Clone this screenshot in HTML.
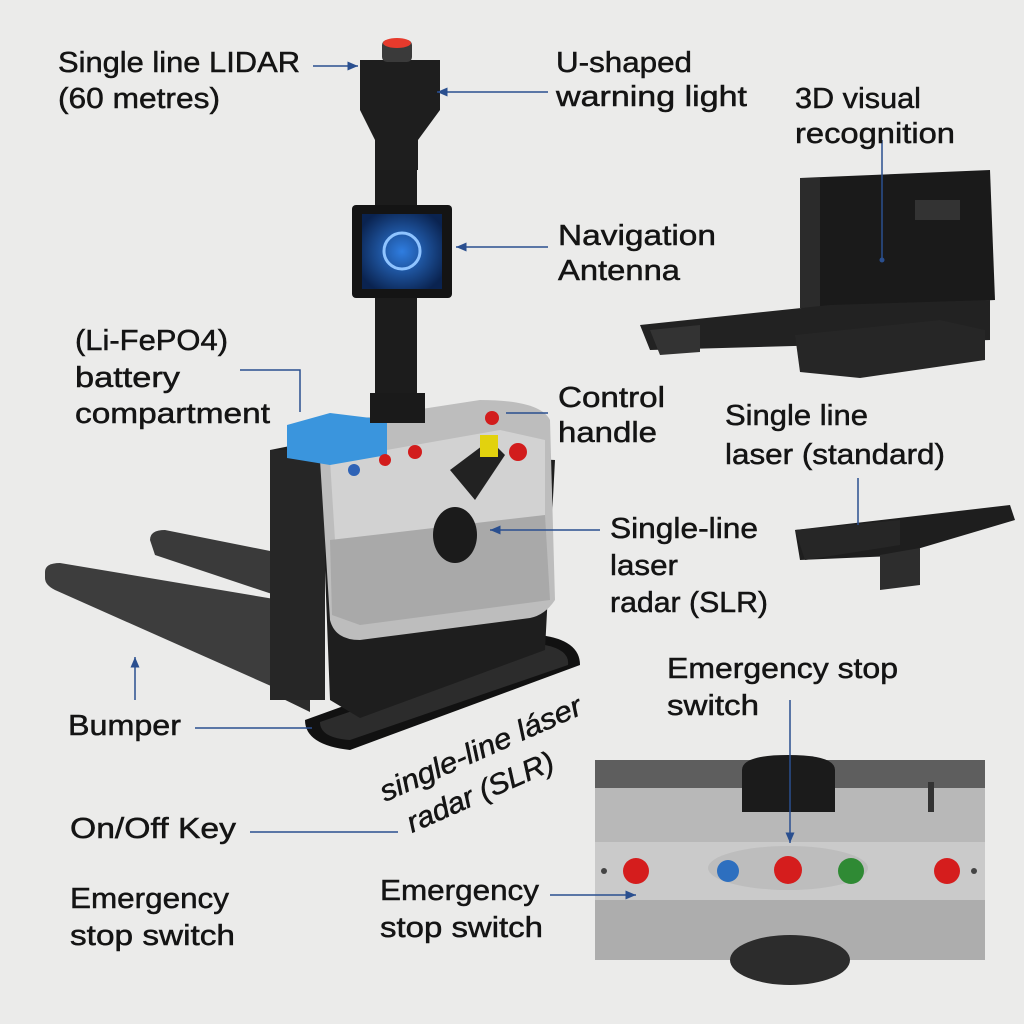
<!DOCTYPE html>
<html><head><meta charset="utf-8"><style>
html,body{margin:0;padding:0;background:#ebebea;}
svg{display:block}
text{font-family:"Liberation Sans",sans-serif;font-size:29px;fill:#141414;stroke:#141414;stroke-width:0.5;}
</style></head><body>
<svg width="1024" height="1024" viewBox="0 0 1024 1024" xmlns="http://www.w3.org/2000/svg">
<defs>
<marker id="a" markerWidth="8" markerHeight="8" refX="7" refY="4" orient="auto"><path d="M0,1 L7,4 L0,7 z" fill="#2a4f8f"/></marker>
<radialGradient id="scr" cx="50%" cy="50%" r="60%"><stop offset="0" stop-color="#2f7de0"/><stop offset="1" stop-color="#0a2350"/></radialGradient>
</defs>
<rect width="1024" height="1024" fill="#ebebea"/>

<path d="M45,572 Q45,563 60,563 L280,600 L280,690 L55,590 Q45,585 45,578z" fill="#3d3d3d"/>
<path d="M150,540 Q150,530 165,530 L290,555 L290,600 L155,555z" fill="#3a3a3a"/>
<path d="M270,600 L275,695 L310,712 L310,610z" fill="#2c2c2c"/>
<path d="M305,720 L540,635 Q580,640 580,665 L350,750 Q305,745 305,720z" fill="#111"/>
<path d="M320,722 L545,645 Q570,650 568,665 L350,740 Q320,738 320,722z" fill="#2c2c2c"/>
<path d="M270,450 L320,440 L330,700 L360,718 L545,650 L555,460 L330,450z" fill="#1e1e1e"/>
<rect x="270" y="450" width="55" height="250" fill="#262626"/>
<path d="M320,460 Q320,430 350,420 L480,400 Q540,400 550,420 L555,600 Q545,615 530,618 L360,640 Q335,640 330,620z" fill="#bdbdbd"/>
<path d="M330,460 L500,430 L545,440 L545,520 L360,545 L335,540z" fill="#d2d2d2"/>
<path d="M330,540 L545,515 L550,600 L360,625 L332,615z" fill="#a9a9a9"/>
<path d="M287,425 L330,413 L387,420 L387,455 L330,465 L287,458z" fill="#3a95dd"/>
<circle cx="354" cy="470" r="6" fill="#2f63b6"/><circle cx="385" cy="460" r="6" fill="#d21c1c"/><circle cx="415" cy="452" r="7" fill="#d21c1c"/><circle cx="492" cy="418" r="7" fill="#d21c1c"/>
<path d="M450,470 L490,440 L505,455 L475,500 z" fill="#222"/>
<rect x="480" y="435" width="18" height="22" fill="#e2d20e"/>
<circle cx="518" cy="452" r="9" fill="#d21c1c"/>
<ellipse cx="455" cy="535" rx="22" ry="28" fill="#1b1b1b"/>
<rect x="375" y="130" width="42" height="290" fill="#1c1c1c"/>
<path d="M360,60 L440,60 L440,110 L418,140 L418,170 L375,170 L375,140 L360,110z" fill="#1e1e1e"/>
<rect x="382" y="40" width="30" height="22" rx="5" fill="#3a3a3a"/>
<ellipse cx="397" cy="43" rx="14" ry="5" fill="#e63a2c"/>
<rect x="370" y="393" width="55" height="30" fill="#1a1a1a"/>
<rect x="352" y="205" width="100" height="93" rx="4" fill="#141414"/>
<rect x="362" y="214" width="80" height="75" fill="url(#scr)"/>
<circle cx="402" cy="251" r="18" fill="none" stroke="#8fc4ff" stroke-width="3"/>

<path d="M800,178 L990,170 L995,300 L805,310z" fill="#1a1a1a"/>
<rect x="800" y="178" width="20" height="130" fill="#2b2b2b"/>
<rect x="915" y="200" width="45" height="20" fill="#333"/>
<path d="M640,325 L830,305 L990,300 L990,340 L830,345 L650,350z" fill="#222"/>
<path d="M650,330 L700,325 L700,352 L660,355z" fill="#333"/>
<path d="M795,335 L940,320 L985,330 L985,360 L860,378 L800,372z" fill="#262626"/>
<path d="M795,530 L1010,505 L1015,520 L880,560 L880,585 L920,585 L915,555 L800,560z" fill="#1e1e1e"/>
<path d="M880,555 L920,548 L920,585 L880,590z" fill="#2d2d2d"/>
<path d="M795,530 L900,520 L900,545 L805,560z" fill="#262626"/>

<rect x="595" y="760" width="390" height="200" fill="#b8b8b8"/>
<rect x="595" y="760" width="390" height="28" fill="#5e5e5e"/>
<rect x="595" y="842" width="390" height="58" fill="#cacaca"/>
<rect x="595" y="900" width="390" height="60" fill="#adadad"/>
<ellipse cx="790" cy="960" rx="60" ry="25" fill="#2c2c2c"/>
<path d="M742,770 Q742,755 788,755 Q835,755 835,770 L835,812 L742,812z" fill="#1b1b1b"/>
<rect x="928" y="782" width="6" height="30" fill="#333"/>
<ellipse cx="788" cy="868" rx="80" ry="22" fill="#bdbdbd"/>
<circle cx="636" cy="871" r="13" fill="#d51d1d"/><circle cx="728" cy="871" r="11" fill="#2d6fbf"/><circle cx="788" cy="870" r="14" fill="#d51d1d"/><circle cx="851" cy="871" r="13" fill="#2f8a34"/><circle cx="947" cy="871" r="13" fill="#d51d1d"/>
<circle cx="604" cy="871" r="3" fill="#444"/><circle cx="974" cy="871" r="3" fill="#444"/>

<g stroke="#2a4f8f" stroke-width="1.5" fill="none">
<line x1="313" y1="66" x2="358" y2="66" marker-end="url(#a)"/>
<line x1="548" y1="92" x2="437" y2="92" marker-end="url(#a)"/>
<line x1="882" y1="140" x2="882" y2="258"/>
<line x1="548" y1="247" x2="456" y2="247" marker-end="url(#a)"/>
<polyline points="240,370 300,370 300,412"/>
<line x1="548" y1="413" x2="506" y2="413"/>
<line x1="858" y1="478" x2="858" y2="525"/>
<line x1="600" y1="530" x2="490" y2="530" marker-end="url(#a)"/>
<line x1="790" y1="700" x2="790" y2="843" marker-end="url(#a)"/>
<line x1="195" y1="728" x2="312" y2="728"/>
<line x1="135" y1="700" x2="135" y2="657" marker-end="url(#a)"/>
<line x1="250" y1="832" x2="398" y2="832"/>
<line x1="550" y1="895" x2="636" y2="895" marker-end="url(#a)"/>
</g>
<circle cx="882" cy="260" r="2.5" fill="#2a4f8f"/>

<g lengthAdjust="spacingAndGlyphs">
<text x="58" y="72" textLength="242" lengthAdjust="spacingAndGlyphs">Single line LIDAR</text>
<text x="58" y="108" textLength="162" lengthAdjust="spacingAndGlyphs">(60 metres)</text>
<text x="556" y="72" textLength="136" lengthAdjust="spacingAndGlyphs">U-shaped</text>
<text x="556" y="106" textLength="191" lengthAdjust="spacingAndGlyphs">warning light</text>
<text x="795" y="108" textLength="126" lengthAdjust="spacingAndGlyphs">3D visual</text>
<text x="795" y="143" textLength="160" lengthAdjust="spacingAndGlyphs">recognition</text>
<text x="558" y="245" textLength="158" lengthAdjust="spacingAndGlyphs">Navigation</text>
<text x="558" y="280" textLength="122" lengthAdjust="spacingAndGlyphs">Antenna</text>
<text x="75" y="350" textLength="153" lengthAdjust="spacingAndGlyphs">(Li-FePO4)</text>
<text x="75" y="387" textLength="105" lengthAdjust="spacingAndGlyphs">battery</text>
<text x="75" y="423" textLength="195" lengthAdjust="spacingAndGlyphs">compartment</text>
<text x="558" y="407" textLength="107" lengthAdjust="spacingAndGlyphs">Control</text>
<text x="558" y="442" textLength="99" lengthAdjust="spacingAndGlyphs">handle</text>
<text x="725" y="425" textLength="143" lengthAdjust="spacingAndGlyphs">Single line</text>
<text x="725" y="464" textLength="220" lengthAdjust="spacingAndGlyphs">laser (standard)</text>
<text x="610" y="538" textLength="148" lengthAdjust="spacingAndGlyphs">Single-line</text>
<text x="610" y="575" textLength="68" lengthAdjust="spacingAndGlyphs">laser</text>
<text x="610" y="612" textLength="158" lengthAdjust="spacingAndGlyphs">radar (SLR)</text>
<text x="667" y="678" textLength="231" lengthAdjust="spacingAndGlyphs">Emergency stop</text>
<text x="667" y="715" textLength="92" lengthAdjust="spacingAndGlyphs">switch</text>
<text x="68" y="735" textLength="113" lengthAdjust="spacingAndGlyphs">Bumper</text>
<text transform="translate(385,802) rotate(-24)" font-style="italic" textLength="218" lengthAdjust="spacingAndGlyphs">single-line láser</text>
<text transform="translate(412,833) rotate(-24)" font-style="italic" textLength="158" lengthAdjust="spacingAndGlyphs">radar (SLR)</text>
<text x="70" y="838" textLength="166" lengthAdjust="spacingAndGlyphs">On/Off Key</text>
<text x="70" y="908" textLength="159" lengthAdjust="spacingAndGlyphs">Emergency</text>
<text x="70" y="945" textLength="165" lengthAdjust="spacingAndGlyphs">stop switch</text>
<text x="380" y="900" textLength="159" lengthAdjust="spacingAndGlyphs">Emergency</text>
<text x="380" y="937" textLength="163" lengthAdjust="spacingAndGlyphs">stop switch</text>
</g>
</svg>
</body></html>
